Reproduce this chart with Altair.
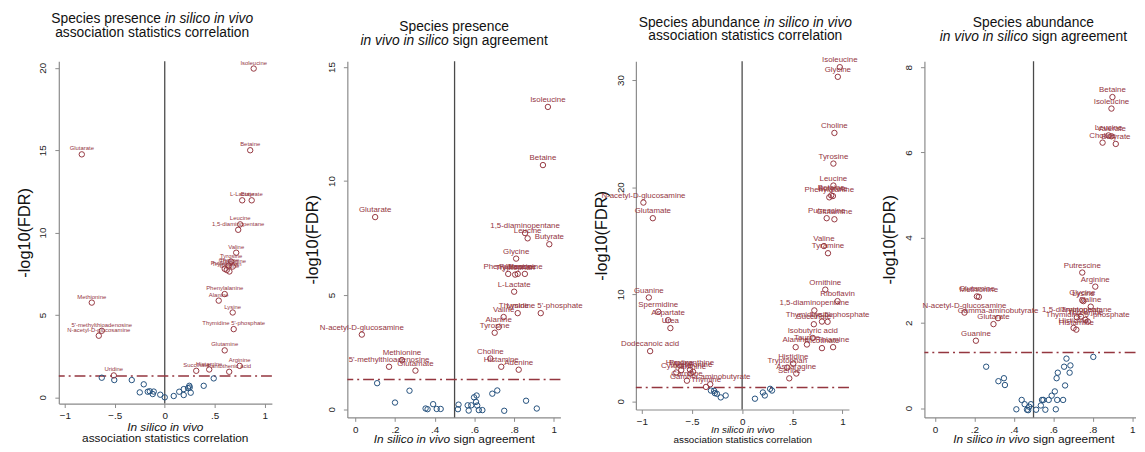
import altair as alt
import pandas as pd

FONT = "Liberation Sans"
RED = "#94363F"
BLUE = "#234F7C"
THR = 1.30103  # -log10(0.05)

# ---------------- Panel 1: species presence, association statistics correlation
p1_sig_names = ["Isoleucine", "Betaine", "Glutarate", "L-Lactate", "Butyrate", "Leucine",
                "1,5-diaminopentane", "Valine", "Tyrosine", "Putrescine", "Choline", "Tryptophan",
                "Threonine", "Glycine", "Phenylalanine", "Alanine", "Lysine",
                "Thymidine 5'-phosphate", "Glutamine", "Arginine", "Histamine", "Succinate",
                "Pantothenic acid", "Methionine", "5'-methylthioadenosine",
                "N-acetyl-D-glucosamine", "Uridine"]
p1_sig_x = [0.89, 0.855, -0.83, 0.775, 0.87, 0.755, 0.735, 0.715, 0.664, 0.60, 0.64, 0.62,
            0.68, 0.647, 0.60, 0.54, 0.68, 0.69, 0.60, 0.75, 0.445, 0.315, 0.645, -0.73,
            -0.63, -0.66, -0.51]
p1_sig_y = [19.96, 15.0, 14.75, 11.96, 11.96, 10.5, 10.17, 8.78, 8.24, 7.8, 8.0, 7.73, 7.94,
            7.64, 6.27, 5.87, 5.15, 4.14, 2.85, 1.91, 1.69, 1.61, 1.55, 5.75, 4.04, 3.74, 1.33]
p1_ns_x = [-0.63, -0.505, -0.33, -0.21, -0.25, -0.17, -0.15, -0.12, -0.11, -0.045, 0.0, 0.09,
           0.145, 0.19, 0.19, 0.233, 0.246, 0.25, 0.26, 0.39, 0.49]
p1_ns_y = [1.19, 1.05, 1.05, 0.79, 0.30, 0.34, 0.37, 0.20, 0.35, 0.16, 0.0, 0.08, 0.34, 0.14,
           0.50, 0.56, 0.70, 0.60, 0.28, 0.70, 1.15]

# ---------------- Panel 2: species presence, sign agreement
p2_sig_names = ["Isoleucine", "Betaine", "Glutarate", "1,5-diaminopentane", "Leucine", "Butyrate",
                "Glycine", "Phenylalanine", "Tryptophan", "Putrescine", "Threonine", "L-Lactate",
                "Thymidine 5'-phosphate", "Lysine", "Valine", "Alanine", "Tyrosine",
                "N-acetyl-D-glucosamine", "Methionine", "5'-methylthioadenosine", "Glutamate",
                "Choline", "Histamine", "Adenine"]
p2_sig_x = [0.97, 0.945, 0.10, 0.855, 0.868, 0.977, 0.81, 0.77, 0.805, 0.818, 0.854, 0.80,
            0.934, 0.818, 0.747, 0.722, 0.702, 0.033, 0.235, 0.17, 0.303, 0.68, 0.735, 0.823]
p2_sig_y = [13.25, 10.7, 8.42, 7.72, 7.49, 7.23, 6.6, 5.93, 5.9, 5.93, 5.93, 5.15, 4.21, 4.21,
            4.04, 3.6, 3.35, 3.27, 2.15, 1.86, 1.69, 2.22, 1.86, 1.73]
p2_ns_x = [0.11, 0.273, 0.20, 0.354, 0.364, 0.392, 0.41, 0.43, 0.52, 0.517, 0.566, 0.571, 0.584,
           0.598, 0.611, 0.608, 0.614, 0.622, 0.64, 0.69, 0.715, 0.75, 0.86, 0.914]
p2_ns_y = [1.14, 0.81, 0.29, 0.03, 0.0, 0.22, 0.01, 0.01, 0.20, 0.0, 0.17, -0.06, 0.17, 0.52,
           0.60, 0.32, 0.16, -0.04, -0.04, 0.68, 0.82, -0.07, 0.37, 0.03]

# ---------------- Panel 3: species abundance, association statistics correlation
p3_sig_names = ["Isoleucine", "Glycine", "Choline", "Tyrosine", "Leucine", "Betaine",
                "Phenylalanine", "Butyrate", "Putrescine", "Glutamine", "Valine", "Tyramine",
                "Ornithine", "Riboflavin", "1,5-diaminopentane", "Thymidine 5'-phosphate",
                "Lysine", "Succinate", "Isobutyric acid", "Alanine", "Thiamine", "Nicotinate",
                "Taurine", "Histidine", "Tryptophan", "Asparagine", "Serine",
                "N-acetyl-D-glucosamine", "Glutamate", "Guanine", "Spermidine", "Aspartate",
                "Urea", "Dodecanoic acid", "Proline", "Hypoxanthine", "Methionine", "Xanthine",
                "Cytosine", "Carnitine", "Gamma-aminobutyrate", "Thymine"]
p3_sig_x = [0.974, 0.954, 0.92, 0.91, 0.91, 0.888, 0.869, 0.905, 0.843, 0.92, 0.816, 0.856,
            0.829, 0.951, 0.72, 0.852, 0.796, 0.715, 0.705, 0.534, 0.907, 0.796, 0.646, 0.51,
            0.45, 0.54, 0.47, -0.984, -0.89, -0.93, -0.836, -0.738, -0.715, -0.917, -0.607,
            -0.52, -0.489, -0.514, -0.656, -0.55, -0.318, -0.36]
p3_sig_y = [31.2, 30.3, 25.06, 22.2, 20.15, 19.23, 19.05, 19.17, 17.1, 17.0, 14.5, 13.83, 10.43,
            9.36, 8.49, 7.43, 7.45, 7.2, 5.92, 5.06, 5.06, 4.97, 5.31, 3.53, 3.16, 2.6, 2.15,
            18.56, 17.1, 9.7, 8.37, 7.58, 6.84, 4.69, 2.92, 2.95, 2.76, 2.6, 2.7, 1.93, 1.6,
            1.35]
p3_ns_x = [-0.311, -0.279, -0.272, -0.252, -0.213, -0.164, 0.128, 0.207, 0.226, 0.279, 0.298]
p3_ns_y = [1.01, 0.98, 0.77, 0.71, 0.37, 0.55, 0.25, 0.83, 0.55, 1.17, 1.01]

# ---------------- Panel 4: species abundance, sign agreement
p4_sig_names = ["Betaine", "Isoleucine", "Choline", "Leucine", "Valerate", "Butyrate",
                "Putrescine", "Arginine", "Glycine", "Lysine", "Valine", "1,5-diaminopentane",
                "Thymidine 5'-phosphate", "Tryptophan", "Threonine", "Histidine", "Histamine",
                "Glutamine", "Methionine", "N-acetyl-D-glucosamine", "Gamma-aminobutyrate",
                "Glutarate", "Guanine"]
p4_sig_x = [0.90, 0.895, 0.85, 0.88, 0.895, 0.917, 0.747, 0.813, 0.747, 0.753, 0.79, 0.72,
            0.775, 0.74, 0.763, 0.703, 0.717, 0.213, 0.223, 0.15, 0.32, 0.297, 0.208]
p4_sig_y = [7.3, 7.03, 6.23, 6.4, 6.38, 6.2, 3.18, 2.85, 2.53, 2.51, 2.38, 2.13, 2.03, 2.15,
            2.07, 1.88, 1.84, 2.62, 2.61, 2.24, 2.11, 1.97, 1.58]
p4_ns_x = [0.26, 0.322, 0.35, 0.355, 0.413, 0.44, 0.455, 0.467, 0.478, 0.487, 0.473, 0.513,
           0.537, 0.543, 0.55, 0.56, 0.577, 0.592, 0.608, 0.62, 0.613, 0.617, 0.623, 0.65,
           0.66, 0.655, 0.667, 0.683, 0.687, 0.803]
p4_ns_y = [0.97, 0.63, 0.70, 0.54, -0.03, 0.19, 0.09, -0.04, 0.03, 0.09, -0.05, -0.04, 0.06,
           0.19, 0.19, -0.04, 0.19, 0.29, 0.39, 0.19, -0.03, 0.70, 0.83, 0.19, 0.53, 0.97,
           1.16, 0.83, 1.00, 1.20]

# Arial / Liberation Sans advance widths (per 1000 em)
CW = {' ': 278, "'": 191, '-': 333, '.': 278, ',': 278, '(': 333, ')': 333, 'A': 667,
      'D': 722, 'F': 611, 'I': 278, 'S': 667, 'R': 722, 'N': 722, 'a': 556, 'b': 556,
      'c': 500, 'd': 556, 'e': 556, 'f': 278, 'g': 556, 'h': 556, 'i': 222, 'j': 222,
      'k': 500, 'l': 222, 'm': 833, 'n': 556, 'o': 556, 'p': 556, 'q': 556, 'r': 333,
      's': 500, 't': 278, 'u': 556, 'v': 500, 'w': 722, 'x': 500, 'y': 500, 'z': 500}


def tw(s, size):
    return sum(CW.get(c, 556) for c in s) * size / 1000.0


ONE = pd.DataFrame({"k": [0]})


def text_line(segments, cx, y, size):
    total = sum(tw(s, size) for s, _ in segments)
    cur = cx - total / 2.0
    out = []
    for s, ital in segments:
        lead = len(s) - len(s.lstrip())
        out.append(
            alt.Chart(ONE).mark_text(
                text=s.strip(), align="left", baseline="alphabetic", font=FONT,
                fontSize=size, color="#111111", fontStyle="italic" if ital else "normal"
            ).encode(x=alt.value(cur + tw(s[:lead], size)), y=alt.value(y))
        )
        cur += tw(s, size)
    return out


def panel(names, sx, sy, nx, ny, xdom, ydom, xticks, yticks, vx, w, h, lab_size, lab_dy,
          title_lines, title_cx, title_ys, xt_lines, xt_ys, xt_size, xt_cx):
    sig = pd.DataFrame({"name": names, "x": sx, "y": sy})
    ns = pd.DataFrame({"x": nx, "y": ny})
    X = alt.X("x:Q", scale=alt.Scale(domain=xdom, nice=False, zero=False),
              axis=alt.Axis(values=xticks,
                            labelExpr="replace(format(datum.value, '~g'), '0.', '.')",
                            title=None, labelPadding=3))
    Y = alt.Y("y:Q", scale=alt.Scale(domain=ydom, nice=False, zero=False),
              axis=alt.Axis(values=yticks, title="-log10(FDR)", labelAngle=270,
                            labelAlign="center", labelBaseline="bottom", labelPadding=7,
                            titleFontSize=16.5, titlePadding=6))
    layers = [
        alt.Chart(pd.DataFrame({"x": [vx]})).mark_rule(color="#4a4a4a", strokeWidth=1.3)
        .encode(x=X),
        alt.Chart(pd.DataFrame({"y": [THR]})).mark_rule(
            color=RED, strokeWidth=1.5, strokeDash=[11, 4, 2, 4]).encode(y=Y),
        alt.Chart(ns).mark_point(shape="circle", filled=False, color=BLUE, size=30,
                                 strokeWidth=1, opacity=1).encode(x=X, y=Y),
        alt.Chart(sig).mark_point(shape="circle", filled=False, color=RED, size=30,
                                  strokeWidth=1, opacity=1).encode(x=X, y=Y),
        alt.Chart(sig).mark_text(font=FONT, fontSize=lab_size, dy=lab_dy, color=RED,
                                 baseline="alphabetic").encode(x=X, y=Y, text="name:N"),
    ]
    for segs, yy in zip(title_lines, title_ys):
        layers += text_line(segs, title_cx, yy, 14)
    for segs, yy in zip(xt_lines, xt_ys):
        layers += text_line(segs, xt_cx, yy, xt_size)
    return alt.layer(*layers).properties(width=w, height=h)


X_CORR = [-1, -0.5, 0, 0.5, 1]
X_AGREE = [0, 0.2, 0.4, 0.6, 0.8, 1]

c1 = panel(p1_sig_names, p1_sig_x, p1_sig_y, p1_ns_x, p1_ns_y,
           [-1.06, 1.072], [-0.38, 20.4], X_CORR, [0, 5, 10, 15, 20], 0, 216, 347, 6, -4,
           [[("Species presence ", False), ("in silico in vivo", True)],
            [("association statistics correlation", False)]], 94.7, [-39.3, -25],
           [[("In silico in vivo", True)], [("association statistics correlation", False)]],
           [374.5, 386], 12, 108)
c2 = panel(p2_sig_names, p2_sig_x, p2_sig_y, p2_ns_x, p2_ns_y,
           [-0.04, 1.033], [-0.36, 15.25], X_AGREE, [0, 5, 10, 15], 0.5, 216, 361, 8, -5,
           [[("Species presence", False)],
            [("in vivo in silico", True), (" sign agreement", False)]], 108.3, [-30.7, -16.7],
           [[("In silico in vivo", True), (" sign agreement", False)]], [387], 12, 108.5)
c3 = panel(p3_sig_names, p3_sig_x, p3_sig_y, p3_ns_x, p3_ns_y,
           [-1.059, 1.065], [-0.76, 31.75], X_CORR, [0, 10, 20, 30], 0, 216, 353, 8, -5,
           [[("Species abundance ", False), ("in silico in vivo", True)],
            [("association statistics correlation", False)]], 111, [-35, -21.5],
           [[("In silico in vivo", True)], [("association statistics correlation", False)]],
           [377, 387], 10, 108.4)
c4 = panel(p4_sig_names, p4_sig_x, p4_sig_y, p4_ns_x, p4_ns_y,
           [-0.053, 1.017], [-0.22, 8.14], X_AGREE, [0, 2, 4, 6, 8], 0.5, 214, 361, 8, -5,
           [[("Species abundance", False)],
            [("in vivo in silico", True), (" sign agreement", False)]], 110.5, [-35, -21],
           [[("In silico in vivo", True), (" sign agreement", False)]], [387], 12, 111)

chart = alt.hconcat(c1, c2, c3, c4, spacing=76.5, bounds="flush").properties(
    padding={"left": 8.5, "top": 0, "right": 0, "bottom": 0}
).configure_view(stroke=None).configure_axis(
    grid=False, domainColor="#8a8a8a", domainWidth=1.2, tickColor="#8a8a8a", tickSize=4,
    tickWidth=1, labelFont=FONT, labelFontSize=10, labelColor="#222222", titleFont=FONT,
    titleFontWeight="normal", titleColor="#111111"
)

chart.save("out.html", embed_options={"renderer": "svg", "actions": False})
